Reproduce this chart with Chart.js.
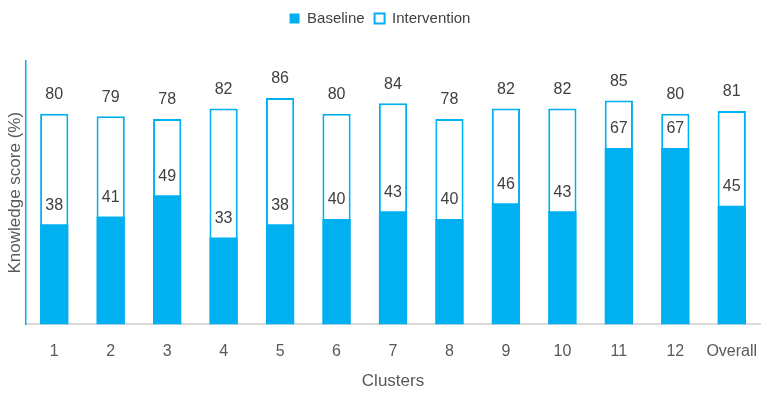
<!DOCTYPE html>
<html>
<head>
<meta charset="utf-8">
<script src="https://cdn.jsdelivr.net/npm/chart.js@4/dist/chart.umd.min.js"></script>
<style>
  body { margin: 0; background: #fff; }
  #wrap { width: 772px; height: 395px; }
</style>
</head>
<body>
<div id="wrap"><canvas id="knowledgeChart"></canvas></div>
<script>
var clusters = ["1", "2", "3", "4", "5", "6", "7", "8", "9", "10", "11", "12", "Overall"];
var baseline = [38, 41, 49, 33, 38, 40, 43, 40, 46, 43, 67, 67, 45];
var intervention = [80, 79, 78, 82, 86, 80, 84, 78, 82, 82, 85, 80, 81];

var blue = "#00b0f0";
var fontFamily = "'Liberation Sans', Arial, sans-serif";

// value labels over each bar
var barLabels = {
    id: 'barLabels',
    afterDatasetsDraw: function (chart) {
        var ctx = chart.ctx;
        ctx.save();
        ctx.font = "16px " + fontFamily;
        ctx.fillStyle = "#404040";
        ctx.textAlign = "center";
        ctx.textBaseline = "middle";
        chart.data.datasets.forEach(function (ds, i) {
            var meta = chart.getDatasetMeta(i);
            meta.data.forEach(function (bar, j) {
                ctx.fillText(ds.data[j], bar.x, bar.y - 19);
            });
        });
        ctx.restore();
    }
};

// push the plot down below the legend
var legendSpace = {
    id: 'legendSpace',
    beforeInit: function (chart) {
        var fit = chart.legend.fit;
        chart.legend.fit = function () {
            fit.bind(chart.legend)();
            this.height += 25;
        };
    }
};

var ctx = document.getElementById("knowledgeChart").getContext('2d');
var myChart = new Chart(ctx, {
    type: 'bar',
    data: {
        labels: clusters,
        datasets: [{
            label: "Baseline",
            data: baseline,
            backgroundColor: blue,
            borderColor: blue,
            borderWidth: 0
        }, {
            label: "Intervention",
            data: intervention,
            backgroundColor: "#ffffff",
            borderColor: blue,
            borderWidth: 2
        }]
    },
    options: {
        responsive: true,
        maintainAspectRatio: false,
        animation: false,
        layout: { padding: { top: 1, right: 12, bottom: 3, left: 0 } },
        datasets: {
            bar: { grouped: false, categoryPercentage: 1, barPercentage: 0.5 }
        },
        plugins: {
            legend: {
                position: 'top',
                labels: {
                    boxWidth: 10,
                    boxHeight: 10,
                    padding: 10,
                    color: "#404040",
                    font: { family: fontFamily, size: 15 }
                }
            },
            tooltip: { enabled: false }
        },
        scales: {
            x: {
                grid: { display: false },
                border: { display: true, color: "#d9d9d9", width: 2 },
                ticks: {
                    color: "#595959",
                    padding: 10,
                    maxRotation: 0,
                    minRotation: 0,
                    autoSkip: false,
                    font: { family: fontFamily, size: 16 }
                },
                title: {
                    display: true,
                    text: "Clusters",
                    color: "#595959",
                    padding: { top: 0, bottom: 0 },
                    font: { family: fontFamily, size: 17 }
                }
            },
            y: {
                min: 0,
                max: 100,
                grid: { display: false },
                border: { display: true, color: blue, width: 1.5 },
                ticks: { display: false },
                title: {
                    display: true,
                    text: "Knowledge score (%)",
                    color: "#595959",
                    padding: { top: 5, bottom: 2 },
                    font: { family: fontFamily, size: 17 }
                },
                afterFit: function (scale) { scale.width = 26; }
            }
        }
    },
    plugins: [barLabels, legendSpace]
});
</script>
</body>
</html>
